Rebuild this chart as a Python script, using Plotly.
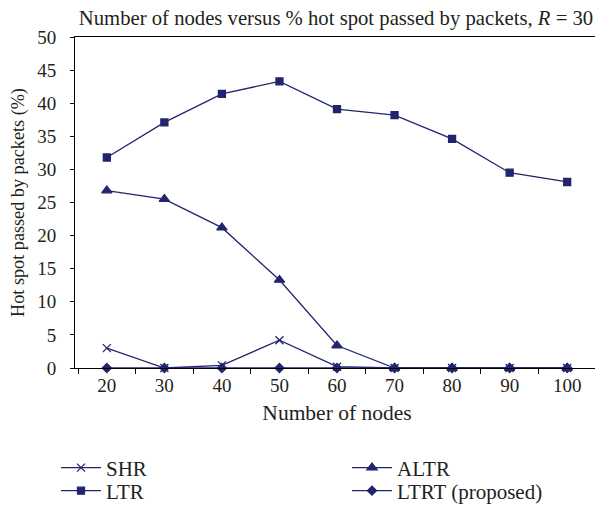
import plotly.graph_objects as go

nodes = ["20", "30", "40", "50", "60", "70", "80", "90", "100"]
shr = [3.0, 0.0, 0.4, 4.2, 0.2, 0.0, 0.0, 0.0, 0.0]
ltr = [31.8, 37.1, 41.4, 43.3, 39.1, 38.2, 34.6, 29.5, 28.1]
altr = [26.8, 25.5, 21.2, 13.3, 3.4, 0.0, 0.0, 0.0, 0.0]
ltrt = [0.0, 0.0, 0.0, 0.0, 0.0, 0.0, 0.0, 0.0, 0.0]

color = "#23246e"
txt = "#231f20"
font = "Liberation Serif"

# the page body adds an 8px offset; the figure is sized to fit the window
W, H = 595, 501
L, T, R, B = 67, 29, 4, 141
PW = W - L - R

series = [
    ("SHR", shr, "x-thin", 8, "legend"),
    ("ALTR", altr, "triangle-up", 9, "legend3"),
    ("LTR", ltr, "square", 7, "legend2"),
    ("LTRT (proposed)", ltrt, "diamond", 7, "legend4"),
]

fig = go.Figure()
for name, vals, sym, size, lg in series:
    fig.add_trace(go.Scatter(
        x=nodes, y=vals, name=name, mode="lines+markers",
        line=dict(color=color, width=1.3),
        marker=dict(symbol=sym, size=size, color=color,
                    line=dict(color=color, width=1.3)),
        cliponaxis=False, legend=lg,
    ))

def leg(px, py):
    return dict(xref="paper", yref="container",
                x=(px - L) / PW, y=1 - py / H,
                xanchor="left", yanchor="middle", bgcolor="rgba(0,0,0,0)",
                font=dict(family=font, size=21, color=txt), itemwidth=40)

fig.update_layout(
    width=W, height=H,
    margin=dict(l=L, r=R, t=T, b=B),
    paper_bgcolor="white", plot_bgcolor="white",
    font=dict(family=font, size=19, color=txt),
    title=dict(text="Number of nodes versus % hot spot passed by packets, <i>R</i> = 30",
               x=328 / W, xanchor="center", y=1 - 10 / H, yanchor="middle",
               font=dict(family=font, size=20.7, color=txt), automargin=False),
    showlegend=True,
    legend=leg(48, 460),
    legend2=leg(48, 483),
    legend3=leg(339, 460),
    legend4=leg(339, 483),
    xaxis=dict(type="category", showline=True, linecolor="black", linewidth=1,
               mirror=True, ticks="outside", tickson="boundaries", ticklen=5,
               tickcolor="black", showgrid=False, zeroline=False, tickangle=0,
               automargin=False,
               title=dict(text="Number of nodes", standoff=10,
                          font=dict(family=font, size=21.5, color=txt)),
               tickfont=dict(family=font, size=19, color=txt)),
    yaxis=dict(range=[0, 50], dtick=5, showline=True, linecolor="black", linewidth=1,
               mirror=True, ticks="outside", ticklen=4, tickcolor="black",
               showgrid=False, zeroline=False, automargin=False,
               ticklabelstandoff=10,
               title=dict(text="Hot spot passed by packets (%)", standoff=7,
                          font=dict(family=font, size=18.2, color=txt)),
               tickfont=dict(family=font, size=19, color=txt)),
)

fig.write_html("out.html")
